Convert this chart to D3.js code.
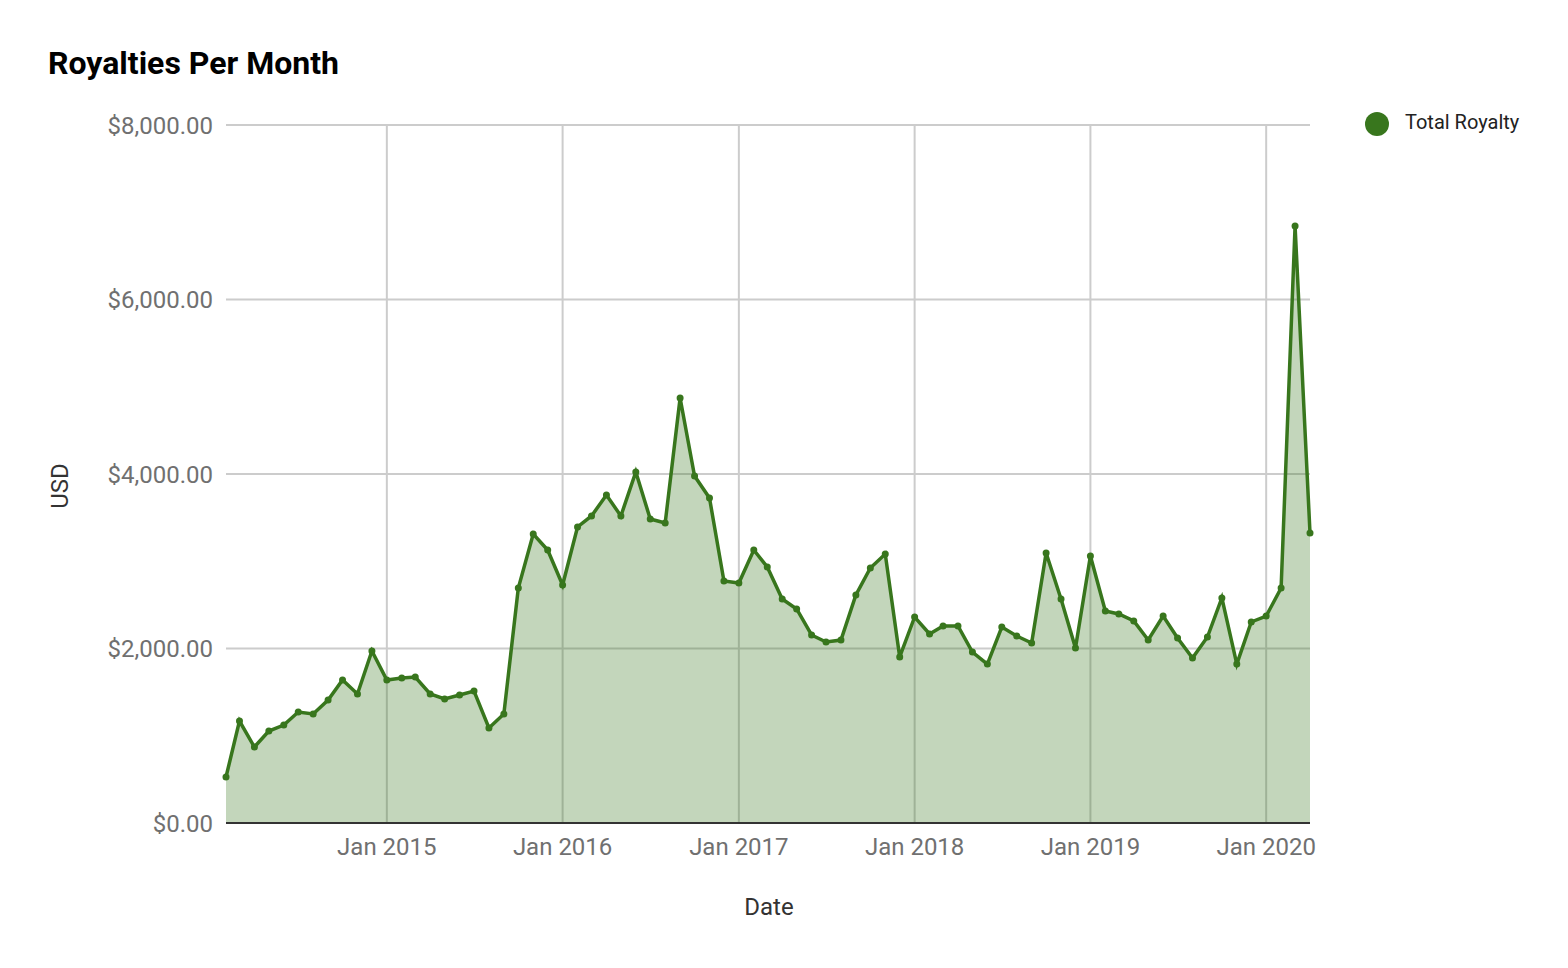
<!DOCTYPE html>
<html>
<head>
<meta charset="utf-8">
<script src="https://cdn.jsdelivr.net/npm/d3@7"></script>
<style>
  body { margin: 0; background: #fff; font-family: Roboto, "Noto Sans", sans-serif; }
</style>
</head>
<body>
<svg id="chart" width="1568" height="968"></svg>
<script>
// monthly royalties, Feb 2014 .. Apr 2020
const startMonth = '2014-02'
const royalties = [
  527, 1169, 871, 1054, 1123, 1272, 1249, 1410, 1639, 1479, 1971,
  1639, 1662, 1673, 1479, 1421, 1467, 1513, 1089, 1249, 2693, 3312, 3129,
  2728, 3393, 3519, 3759, 3519, 4023, 3484, 3438, 4871, 3977, 3725, 2774,
  2751, 3129, 2934, 2567, 2453, 2155, 2074, 2097, 2613, 2923, 3083, 1903,
  2361, 2166, 2258, 2258, 1960, 1822, 2246, 2143, 2063, 3095, 2567, 2006,
  3060, 2430, 2395, 2315, 2097, 2372, 2120, 1891, 2132, 2579, 1822, 2304,
  2372, 2693, 6842, 3324
]
const yTicks = [0, 2000, 4000, 6000, 8000]
const xTickYears = [2015, 2016, 2017, 2018, 2019, 2020]
const seriesName = 'Total Royalty'

const green = '#38761d'
const svg = d3.select('#chart')
const plotL = 226, plotR = 1310, plotT = 125, plotB = 823

const first = d3.timeParse('%Y-%m')(startMonth)
const data = royalties.map((v, i) => ({ date: d3.timeMonth.offset(first, i), value: v }))

const x = d3.scaleTime()
  .domain(d3.extent(data, d => d.date))
  .range([plotL, plotR])
const y = d3.scaleLinear().domain([0, 8000]).range([plotB, plotT])

const money = d3.format('$,.2f')

// grid
svg.append('g').selectAll('line')
  .data(yTicks.slice(1))
  .enter().append('line')
  .attr('x1', plotL).attr('x2', plotR)
  .attr('y1', d => y(d)).attr('y2', d => y(d))
  .attr('stroke', '#cccccc').attr('stroke-width', 2)

const jan = xTickYears.map(yr => new Date(yr, 0, 1))
svg.append('g').selectAll('line')
  .data(jan)
  .enter().append('line')
  .attr('x1', d => x(d)).attr('x2', d => x(d))
  .attr('y1', plotT).attr('y2', plotB)
  .attr('stroke', '#cccccc').attr('stroke-width', 2)

// area + line
svg.append('path')
  .datum(data)
  .attr('fill', green).attr('fill-opacity', 0.3)
  .attr('d', d3.area().x(d => x(d.date)).y0(y(0)).y1(d => y(d.value)))

svg.append('line')
  .attr('x1', plotL).attr('x2', plotR)
  .attr('y1', y(0)).attr('y2', y(0))
  .attr('stroke', '#333').attr('stroke-width', 2)

svg.append('path')
  .datum(data)
  .attr('fill', 'none').attr('stroke', green).attr('stroke-width', 3.5)
  .attr('d', d3.line().x(d => x(d.date)).y(d => y(d.value)))

svg.append('g').selectAll('circle')
  .data(data)
  .enter().append('circle')
  .attr('cx', d => x(d.date)).attr('cy', d => y(d.value))
  .attr('r', 3.5).attr('fill', green)

// tick labels
svg.append('g').selectAll('text')
  .data(yTicks)
  .enter().append('text')
  .attr('x', 213).attr('y', d => y(d) + 8.5)
  .attr('text-anchor', 'end')
  .attr('font-size', 24).attr('fill', '#707070')
  .text(d => money(d))

svg.append('g').selectAll('text')
  .data(jan)
  .enter().append('text')
  .attr('x', d => x(d)).attr('y', 855)
  .attr('text-anchor', 'middle')
  .attr('font-size', 24).attr('fill', '#707070')
  .text(d3.timeFormat('Jan %Y'))

// titles
svg.append('text')
  .attr('x', 48).attr('y', 74)
  .attr('font-size', 32).attr('font-weight', 'bold').attr('fill', '#000')
  .text('Royalties Per Month')

svg.append('text')
  .attr('x', 769).attr('y', 915)
  .attr('text-anchor', 'middle')
  .attr('font-size', 24).attr('fill', '#333')
  .text('Date')

svg.append('text')
  .attr('transform', 'translate(68,486) rotate(-90)')
  .attr('text-anchor', 'middle')
  .attr('font-size', 24).attr('fill', '#333')
  .text('USD')

// legend
svg.append('circle')
  .attr('cx', 1377).attr('cy', 124).attr('r', 12).attr('fill', green)
svg.append('text')
  .attr('x', 1405).attr('y', 129)
  .attr('font-size', 20).attr('fill', '#222')
  .text(seriesName)
</script>
</body>
</html>
